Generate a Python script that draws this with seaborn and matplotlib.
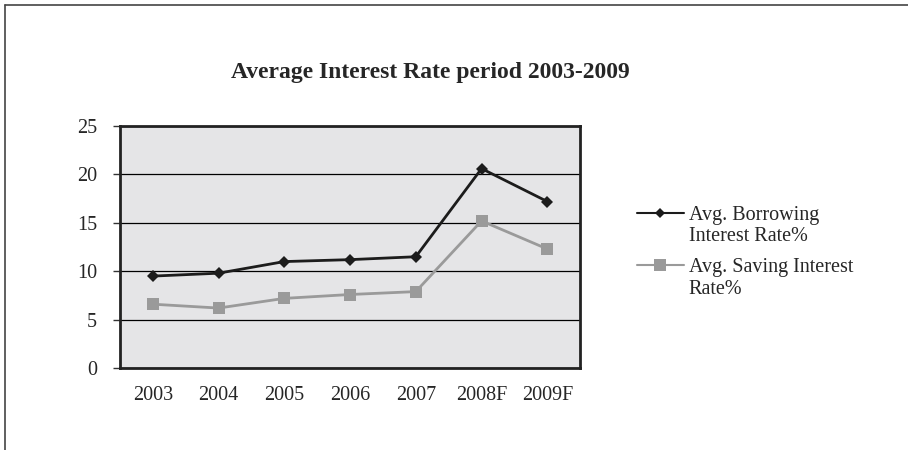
import matplotlib.pyplot as plt
import numpy as np
import pandas as pd
import seaborn as sns
from matplotlib.legend_handler import HandlerLine2D
from matplotlib.lines import Line2D

years = ["2003", "2004", "2005", "2006", "2007", "2008F", "2009F"]
borrowing = [9.5, 9.8, 11.0, 11.2, 11.5, 20.6, 17.2]
saving = [6.6, 6.2, 7.2, 7.6, 7.9, 15.2, 12.3]
series_names = ["Avg. Borrowing\nInterest Rate%", "Avg. Saving Interest\nRate%"]

df = pd.DataFrame({
    "year": years * 2,
    "rate": borrowing + saving,
    "series": [series_names[0]] * len(years) + [series_names[1]] * len(years),
})


class TopLineHandler(HandlerLine2D):
    # put the legend key level with the first text line
    def create_artists(self, legend, orig_handle, xdescent, ydescent, width, height, fontsize, trans):
        return super().create_artists(legend, orig_handle, xdescent, ydescent - 1.3 * fontsize,
                                      width, height, fontsize, trans)


sns.set_style("white")
plt.rcParams["font.family"] = ["Liberation Serif", "DejaVu Serif"]

fig = plt.figure(figsize=(9.08, 4.5), dpi=100)
ax = fig.add_axes([0.132, 0.182, 0.507, 0.538])
ax.set_facecolor("#e5e5e7")

palette = {series_names[0]: "#1c1c1c", series_names[1]: "#9a9a9a"}
markers = {series_names[0]: "D", series_names[1]: "s"}
sns.lineplot(data=df, x="year", y="rate", hue="series", style="series",
             palette=palette, markers=markers, dashes=False, linewidth=2,
             markeredgewidth=0, ax=ax, legend=False)
# marker sizes differ per series
for line, ms in zip(ax.get_lines(), [6, 9]):
    line.set_markersize(ms)

ax.set_ylim(0, 25)
ax.set_yticks(np.arange(0, 26, 5))
ax.set_xlim(-0.5, len(years) - 0.5)
ax.set_xticks(range(len(years)))
ax.set_xticklabels(years)
ax.set_xticks(np.arange(-0.5, len(years), 1), minor=True)
ax.tick_params(axis="x", which="major", length=0, pad=13, labelsize=14.5)
ax.tick_params(axis="x", which="minor", length=5, width=1, color="#333333", direction="out")
ax.tick_params(axis="y", length=5, width=1, color="#333333", direction="out", pad=11.5,
               labelsize=14.5, left=True)
ax.set_xlabel("")
ax.set_ylabel("")
ax.grid(axis="y", color="black", linewidth=0.9)
ax.set_axisbelow(True)
for sp in ax.spines.values():
    sp.set_linewidth(2)
    sp.set_color("#222222")

handles = [
    Line2D([], [], color="#1c1c1c", marker="D", markersize=5, linewidth=1.5, markeredgewidth=0),
    Line2D([], [], color="#9a9a9a", marker="s", markersize=8, linewidth=1.5, markeredgewidth=0),
]
leg = ax.legend(handles, series_names, loc="center left", bbox_to_anchor=(1.124, 0.478),
                frameon=False, fontsize=14.5, handlelength=2.3, handletextpad=0.25,
                labelspacing=0.6, borderaxespad=0, borderpad=0,
                handler_map={Line2D: TopLineHandler()})
for t in leg.get_texts():
    t.set_linespacing(1.15)

fig.text(0.474, 0.838, "Average Interest Rate period 2003-2009", ha="center", va="center",
         fontsize=17, fontweight="bold")

# page frame
fig.add_artist(Line2D([0.005, 0.005], [0.0, 0.99], transform=fig.transFigure, color="#444444", linewidth=1.2))
fig.add_artist(Line2D([0.005, 1.0], [0.99, 0.99], transform=fig.transFigure, color="#444444", linewidth=1.2))

fig.savefig("out.png", dpi=100)
